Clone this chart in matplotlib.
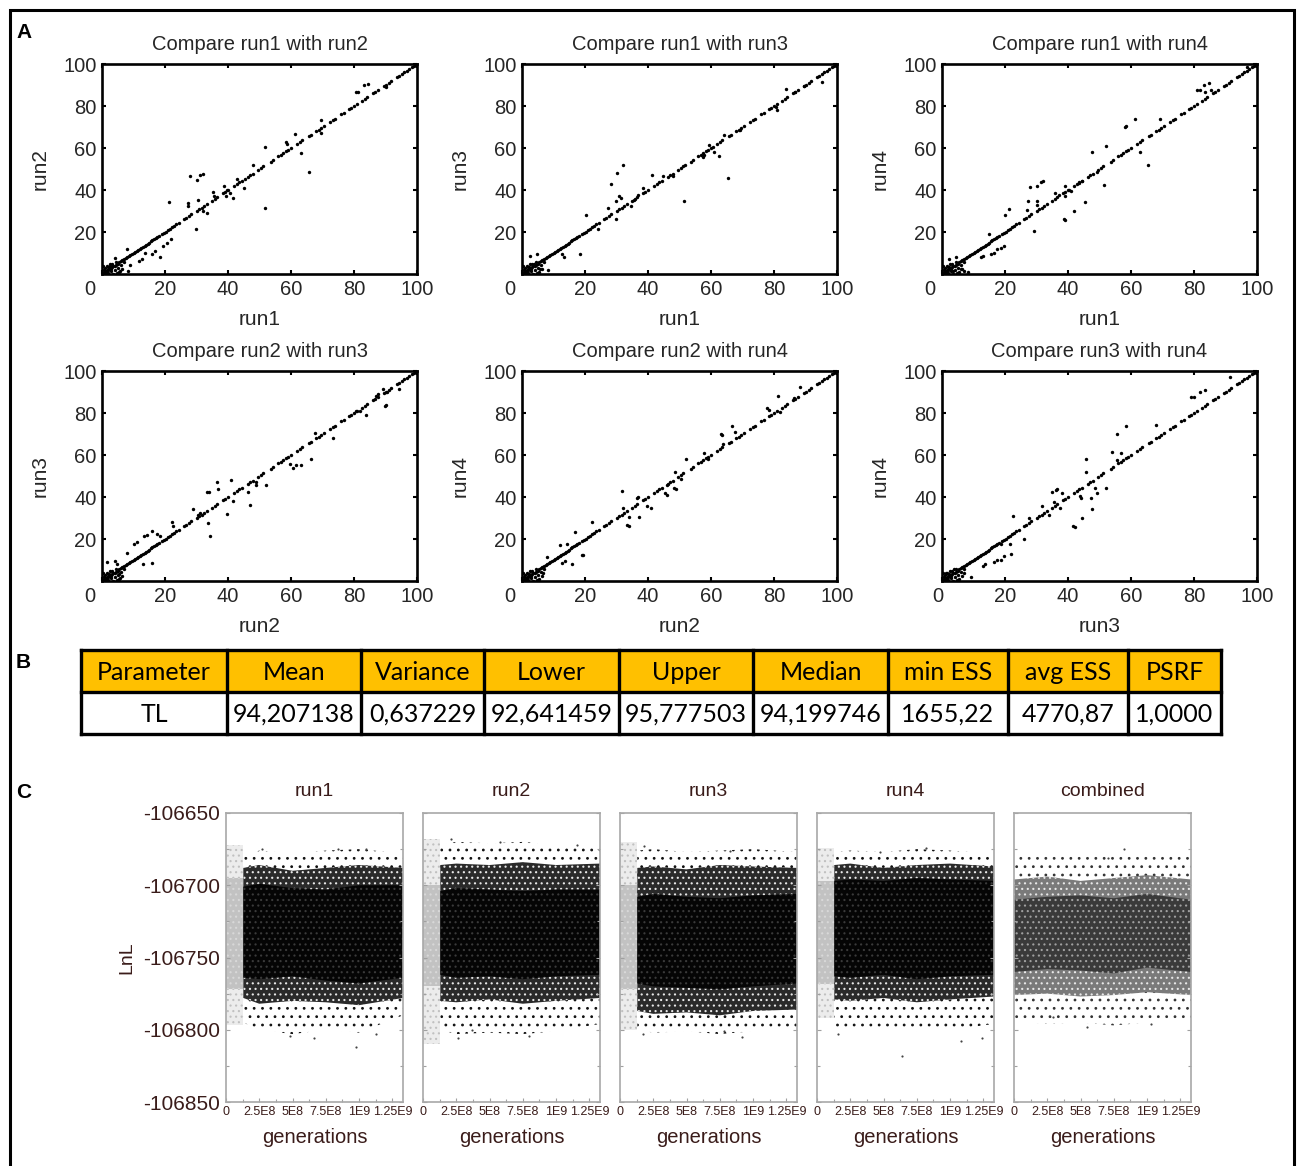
import numpy as np
import matplotlib
matplotlib.use("Agg")
import matplotlib.pyplot as plt
import matplotlib.transforms as mtrans
from matplotlib.ticker import MultipleLocator

plt.rcParams['font.family'] = ['Liberation Sans', 'DejaVu Sans']
plt.rcParams['axes.unicode_minus'] = False
plt.rcParams['hatch.linewidth'] = 0.8

W, H = 1300, 1166

# ---- panel A data (split frequencies, %) ----
diag = [0, 0.3, 0.6, 1, 1.3, 1.6, 2, 2.4, 2.8, 3.2, 3.6, 4, 4.5, 5, 5.5, 6, 6.5, 7,
        7.5, 8, 8.5, 9, 9.5, 10, 10.5, 11, 11.5, 12, 12.5, 13, 13.5, 14, 14.5, 15,
        15.5, 16, 16.5, 17, 17.5, 18, 19, 19.6, 20.2, 21, 21.6, 22.2, 23, 23.6, 24.4,
        26, 26.8, 27.6, 28.4, 30, 30.8, 31.6, 32.4, 33.2, 35, 35.8, 36.6, 38.4, 39.2,
        40, 42, 42.8, 43.6, 44.4, 46.2, 47, 47.8, 49.6, 50.4, 51.2, 53.5, 54.3, 56,
        56.8, 57.6, 58.4, 59.2, 60, 62, 62.8, 63.6, 65.6, 66.4, 68, 68.8, 69.6, 70.4,
        72.4, 73.2, 74, 76, 76.8, 78.4, 79.2, 80, 80.8, 82.6, 83.4, 84.2, 86, 86.8,
        87.6, 89.4, 90.2, 91, 91.8, 93.6, 94.4, 95.2, 96, 96.8, 97.6, 98.4, 99.2,
        99.6, 100]
# small cluster of rare splits near the origin
origin_x = [0.5, 1, 2, 3, 1.5, 4, 2.5, 5, 6, 3.5, 0.8, 1.8, 4.5, 5.5, 7, 2.2,
            1.2, 3.2, 0.4, 2.8, 4.8, 6.4]
origin_y = [2, 3, 0.5, 1.5, 4, 2, 5, 3, 4.2, 0.2, 1.2, 2.6, 5.8, 1, 5.5, 3.4,
            0.8, 4.6, 3.8, 2.2, 0.6, 2.4]

r1r2_x = [28.0, 30.1, 31.1, 32.2, 21.4, 27.4, 27.4, 30.6, 29.9, 51.7, 51.7, 65.7, 63.3,
          61.2, 69.4, 69.4, 58.3, 58.8, 80.7, 81.2, 83.3, 84.4, 90.2, 18.5, 15.8, 16.9,
          19.5, 20.6, 21.8, 13.7, 7.9, 4.2, 8.8, 5.8, 2.6, 8.4, 11.6, 12.7, 39.3, 40.6,
          35.3, 35.6, 45.0, 45.4, 48.0, 42.7, 41.5, 33.2, 32.2, 38.7, 39.6]
r1r2_y = [46.5, 44.9, 47.2, 47.7, 34.2, 33.9, 32.3, 35.4, 21.6, 60.6, 31.5, 48.8, 57.8,
          66.6, 73.2, 67.2, 63.0, 61.9, 86.9, 86.6, 89.8, 90.6, 89.0, 7.9, 9.4, 11.0,
          13.4, 14.6, 16.5, 10.2, 11.8, 7.4, 4.3, 1.6, 3.9, 1.6, 6.3, 7.1, 37.0, 38.6,
          38.9, 37.3, 41.0, 45.2, 52.0, 45.2, 36.2, 29.1, 29.9, 41.7, 40.2]

r1r3_x = [30.2, 32.1, 28.1, 30.7, 31.3, 29.8, 27.4, 29.7, 20.2, 18.4, 51.3, 65.3, 62.6,
          61.1, 57.4, 57.9, 59.5, 60.5, 64.2, 69.2, 83.7, 86.8, 95.1, 80.5, 81.0, 89.5,
          41.4, 44.7, 47.9, 38.4, 34.7, 35.5, 36.8, 51.6, 24.2, 2.6, 4.7, 5.8, 3.7, 12.6,
          13.2, 8.4]
r1r3_y = [48.3, 51.7, 42.8, 37.3, 36.2, 34.6, 31.5, 26.0, 27.9, 9.4, 35.0, 45.7, 56.2,
          58.3, 55.6, 56.7, 61.4, 60.6, 66.1, 68.5, 88.2, 86.6, 91.3, 79.5, 78.3, 89.3,
          47.2, 46.8, 46.5, 40.9, 32.3, 35.4, 37.8, 52.0, 21.3, 8.7, 9.4, 2.4, 4.7, 9.4,
          7.9, 2.0]

r1r4_x = [28.0, 30.0, 31.4, 32.2, 27.3, 30.3, 29.2, 20.0, 21.3, 30.1, 26.9, 15.0, 38.8,
          39.1, 41.9, 45.3, 39.0, 39.0, 47.7, 52.0, 51.5, 58.0, 58.3, 61.3, 62.8, 65.4,
          69.2, 80.8, 82.0, 83.1, 84.7, 83.6, 85.4, 96.8, 15.5, 16.6, 17.6, 18.7, 19.7,
          12.4, 12.9, 3.4, 6.0, 7.1, 8.1, 2.3, 4.4, 35.8, 37.2, 40.3, 41.1, 43.5, 44.6,
          49.3]
r1r4_y = [41.3, 41.7, 43.8, 44.1, 35.0, 34.6, 20.5, 27.9, 31.0, 32.8, 30.4, 18.9, 26.3,
          25.8, 29.9, 34.3, 41.7, 37.0, 58.3, 60.9, 42.5, 69.8, 70.4, 73.7, 58.3, 52.0,
          74.0, 87.4, 87.7, 89.8, 90.9, 86.9, 87.4, 98.4, 9.4, 10.2, 11.8, 12.6, 13.4,
          7.9, 8.7, 1.3, 2.4, 1.6, 0.8, 7.1, 7.9, 38.6, 37.8, 40.2, 39.4, 43.3, 44.4,
          48.5]

r2r3_x = [13.0, 10.0, 11.1, 13.2, 14.2, 15.8, 17.4, 18.5, 15.8, 4.2, 4.7, 1.6, 7.9, 5.3,
          5.8, 22.2, 22.5, 29.0, 30.6, 31.1, 33.4, 34.1, 36.6, 36.9, 40.8, 39.6, 34.3,
          33.8, 41.7, 46.9, 46.4, 48.8, 49.0, 52.2, 60.7, 63.3, 66.5, 59.6, 61.7, 73.3,
          67.5, 83.9, 89.7, 90.2, 87.0, 87.6, 80.7, 81.8, 94.4, 89.1, 90.5]
r2r3_y = [8.2, 17.6, 18.7, 21.6, 21.9, 23.6, 22.4, 21.6, 8.7, 9.4, 7.9, 9.0, 13.4, 3.1,
          1.6, 27.9, 26.0, 34.3, 31.5, 32.3, 42.2, 42.5, 47.2, 43.8, 47.9, 31.8, 21.4,
          27.6, 38.1, 36.2, 42.5, 45.7, 47.2, 45.7, 54.0, 55.4, 58.3, 55.9, 55.1, 68.0,
          70.6, 79.1, 83.2, 83.8, 88.2, 89.0, 80.8, 81.1, 91.6, 91.6, 89.8]

r2r4_x = [31.6, 32.1, 34.0, 33.4, 33.9, 37.2, 39.7, 41.1, 36.5, 36.8, 22.1, 16.8, 12.1,
          14.4, 15.8, 18.9, 19.5, 12.6, 13.7, 7.9, 6.8, 48.4, 48.9, 45.3, 46.0, 46.0,
          52.1, 48.7, 50.5, 57.9, 58.9, 63.2, 63.5, 66.6, 67.7, 63.7, 81.3, 77.9, 78.4,
          81.8, 86.3, 88.4]
r2r4_y = [42.8, 35.0, 30.7, 26.5, 26.0, 30.7, 35.9, 34.6, 39.4, 40.2, 28.3, 23.3, 17.3,
          17.6, 8.2, 12.3, 12.6, 8.7, 9.4, 11.3, 3.9, 44.4, 43.8, 41.7, 40.9, 45.7,
          58.3, 52.0, 48.5, 60.9, 58.3, 70.1, 69.6, 74.0, 70.9, 65.4, 88.2, 82.2, 81.6,
          80.3, 87.0, 92.2]

r3r4_x = [78.9, 79.9, 82.0, 83.6, 91.3, 58.3, 55.4, 67.8, 54.0, 56.7, 55.7, 45.8, 45.6,
          48.5, 52.0, 47.2, 49.3, 43.8, 44.0, 41.7, 42.1, 44.6, 47.7, 38.0, 36.1, 36.6,
          35.0, 35.6, 37.4, 34.0, 31.9, 27.7, 22.4, 21.6, 25.9, 18.7, 16.6, 17.6, 18.7,
          19.7, 21.9, 12.9, 13.6, 9.2, 7.1, 3.9, 1.3]
r3r4_y = [87.4, 87.8, 89.8, 90.9, 97.3, 74.0, 70.1, 74.3, 61.4, 61.1, 57.5, 58.3, 52.0,
          44.1, 44.1, 39.7, 41.7, 40.6, 39.4, 26.3, 25.8, 30.1, 34.3, 41.7, 43.3, 43.8,
          42.5, 37.8, 34.6, 31.5, 35.9, 30.2, 31.0, 17.6, 20.2, 17.6, 9.1, 9.8, 10.2,
          11.8, 12.9, 7.1, 7.9, 1.9, 3.9, 5.5, 3.9]

pairs = [("run1", "run2"), ("run1", "run3"), ("run1", "run4"),
         ("run2", "run3"), ("run2", "run4"), ("run3", "run4")]
pair_x = [r1r2_x, r1r3_x, r1r4_x, r2r3_x, r2r4_x, r3r4_x]
pair_y = [r1r2_y, r1r3_y, r1r4_y, r2r3_y, r2r4_y, r3r4_y]

# ---- panel B data ----
tbl_head = ["Parameter", "Mean", "Variance", "Lower", "Upper", "Median",
            "min ESS", "avg ESS", "PSRF"]
tbl_row = ["TL", "94,207138", "0,637229", "92,641459", "95,777503", "94,199746",
           "1655,22", "4770,87", "1,0000"]

# ---- panel C data (LnL traces, band edges read at sample generations) ----
trace_names = ["run1", "run2", "run3", "run4", "combined"]
burn_end = [1.3e8, 1.3e8, 1.3e8, 1.3e8, 0]
sample_gens = [2.5e8, 5e8, 7.5e8, 1.0e9, 1.33e9]
core_hi = [[-106701, -106699, -106702, -106703, -106700, -106700],
           [-106704, -106702, -106703, -106704, -106703, -106703],
           [-106708, -106706, -106708, -106709, -106707, -106706],
           [-106697, -106696, -106697, -106695, -106696, -106697],
           [-106710, -106708, -106707, -106709, -106706, -106710]]
core_lo = [[-106764, -106765, -106763, -106766, -106768, -106764],
           [-106762, -106764, -106763, -106765, -106763, -106762],
           [-106768, -106770, -106771, -106772, -106770, -106768],
           [-106763, -106764, -106762, -106765, -106763, -106762],
           [-106760, -106758, -106759, -106761, -106757, -106760]]
fringe_hi = [[-106688, -106686, -106690, -106688, -106686, -106688],
             [-106686, -106685, -106686, -106684, -106686, -106685],
             [-106688, -106687, -106689, -106686, -106687, -106688],
             [-106686, -106685, -106688, -106686, -106685, -106687],
             [-106696, -106694, -106697, -106695, -106693, -106696]]
fringe_lo = [[-106778, -106782, -106780, -106781, -106783, -106778],
             [-106780, -106781, -106779, -106782, -106780, -106778],
             [-106787, -106789, -106788, -106790, -106787, -106786],
             [-106779, -106780, -106778, -106781, -106779, -106777],
             [-106776, -106775, -106777, -106776, -106774, -106776]]
sparse_hi = [[-106680, -106676, -106678, -106676, -106675, -106678],
             [-106672, -106670, -106671, -106670, -106672, -106674],
             [-106676, -106675, -106677, -106676, -106675, -106677],
             [-106677, -106676, -106677, -106675, -106676, -106678],
             [-106680, -106678, -106680, -106679, -106677, -106680]]
sparse_lo = [[-106795, -106800, -106803, -106800, -106802, -106790],
             [-106800, -106803, -106802, -106803, -106801, -106796],
             [-106800, -106802, -106801, -106803, -106801, -106798],
             [-106798, -106800, -106799, -106801, -106800, -106796],
             [-106794, -106796, -106795, -106797, -106795, -106792]]
# burn-in (grey) part of runs 1-4
burn_core_hi = [-106695, -106700, -106700, -106697]
burn_core_lo = [-106772, -106770, -106772, -106768]
burn_sparse_hi = [-106672, -106668, -106670, -106674]
burn_sparse_lo = [-106797, -106810, -106800, -106792]
# isolated samples outside the bands
stray_gen = [[0.98e9, 0.66e9, 0.48e9, 1.13e9, 0.27e9, 1.05e9, 0.84e9],
             [0.21e9, 0.58e9, 1.16e9, 0.26e9, 0.80e9, 0.37e9],
             [0.18e9, 0.83e9, 0.92e9, 0.17e9, 0.78e9],
             [0.64e9, 0.82e9, 0.47e9, 1.08e9, 1.24e9, 0.16e9],
             [0.83e9, 0.55e9, 1.03e9, 0.71e9, 0.29e9]]
stray_lnl = [[-106812, -106806, -106804, -106803, -106675, -106675, -106675],
             [-106668, -106670, -106672, -106806, -106804, -106800],
             [-106673, -106676, -106805, -106803, -106801],
             [-106818, -106674, -106677, -106808, -106806, -106803],
             [-106675, -106798, -106796, -106681, -106791]]


def box(l, t, r, b):
    return [l / W, 1 - b / H, (r - l) / W, (b - t) / H]


fig = plt.figure(figsize=(W / 100, H / 100), dpi=100)

# overlay in pixel coordinates for frame, table and panel letters
ov = fig.add_axes([0, 0, 1, 1], zorder=-1)
ov.set_xlim(0, W)
ov.set_ylim(H, 0)
ov.axis('off')
ov.plot([10, 10, 1294, 1294], [H, 10, 10, H], color='k', lw=2.2, solid_joinstyle='miter')
for lab, (lx, ly) in zip("ABC", [(16, 32), (16, 663), (16, 792)]):
    ov.text(lx, ly, lab, fontsize=15, fontweight='bold', va='center', ha='left')

# ---- A: pairwise split-frequency comparisons ----
text_col = '#262626'
a_left = [102, 522, 942]
a_top = [64, 371]
for i, ((xn, yn), px, py) in enumerate(zip(pairs, pair_x, pair_y)):
    row, col = divmod(i, 3)
    ax = fig.add_axes(box(a_left[col], a_top[row], a_left[col] + 315, a_top[row] + 210))
    ax.scatter(diag, diag, s=6, c='k', linewidths=0)
    ax.scatter(origin_x, origin_y, s=6, c='k', linewidths=0)
    ax.scatter(px, py, s=6, c='k', linewidths=0)
    ax.set_xlim(0, 100)
    ax.set_ylim(0, 100)
    ax.set_xticks(range(0, 101, 20))
    ax.set_yticks(range(20, 101, 20))
    ax.tick_params(direction='in', top=True, right=True, length=3, width=1.5,
                   color='k', labelcolor=text_col, labelsize=14.5, pad=4)
    for sp in ax.spines.values():
        sp.set_linewidth(1.9)
    shift = -4 if i == 5 else -12
    lbl0 = ax.get_xticklabels()[0]
    lbl0.set_transform(lbl0.get_transform() +
                       mtrans.ScaledTranslation(shift / 100, 0, fig.dpi_scale_trans))
    ax.set_title(f"Compare {xn} with {yn}", fontsize=14.5, color=text_col, pad=10)
    ax.set_xlabel(xn, fontsize=15, color=text_col, labelpad=8)
    ax.set_ylabel(yn, fontsize=15, color=text_col, labelpad=10)

# ---- B: convergence table ----
col_edges = [81, 227, 361, 484, 619, 753, 888, 1008, 1128, 1221]
row_edges = [650, 692, 734]
for j in range(len(tbl_head)):
    x0, x1 = col_edges[j], col_edges[j + 1]
    ov.add_patch(plt.Rectangle((x0, row_edges[0]), x1 - x0, row_edges[1] - row_edges[0],
                               facecolor='#ffc000', edgecolor='none'))
    ov.text((x0 + x1) / 2, (row_edges[0] + row_edges[1]) / 2 + 1, tbl_head[j],
            family='Lato', fontsize=18, ha='center', va='center', color='k')
    ov.text((x0 + x1) / 2, (row_edges[1] + row_edges[2]) / 2 + 1, tbl_row[j],
            family='Lato', fontsize=18, ha='center', va='center', color='k')
for xe in col_edges:
    ov.plot([xe, xe], [row_edges[0], row_edges[-1]], color='k', lw=2.4)
for ye in row_edges:
    ov.plot([col_edges[0], col_edges[-1]], [ye, ye], color='k', lw=2.4)

# ---- C: LnL traces ----
c_col = '#3a1c1a'
c_left = [226, 423, 620, 817, 1014]
for k, name in enumerate(trace_names):
    ax = fig.add_axes(box(c_left[k], 813, c_left[k] + 177, 1102))
    gens = [burn_end[k]] + sample_gens
    if k < 4:
        bx = [0, burn_end[k]]
        ax.fill_between(bx, [burn_sparse_lo[k]] * 2, [burn_sparse_hi[k]] * 2,
                        facecolor='#ececec', edgecolor='#c0c0c0', hatch='...', linewidth=0)
        ax.fill_between(bx, [burn_core_lo[k]] * 2, [burn_core_hi[k]] * 2,
                        facecolor='#c2c2c2', edgecolor='#d8d8d8', hatch='...', linewidth=0)
        dot_col, mid_col, core_col, core_dot = '#111111', '#2a2a2a', '#050505', '#3a3a3a'
    else:
        dot_col, mid_col, core_col, core_dot = '#333333', '#7a7a7a', '#3a3a3a', '#a0a0a0'
    ax.fill_between(gens, sparse_lo[k], sparse_hi[k], facecolor='white',
                    edgecolor=dot_col, hatch='..', linewidth=0)
    ax.fill_between(gens, fringe_lo[k], fringe_hi[k], facecolor=mid_col,
                    edgecolor='#e8e8e8', hatch='...', linewidth=0)
    ax.fill_between(gens, core_lo[k], core_hi[k], facecolor=core_col,
                    edgecolor=core_dot, hatch='...', linewidth=0)
    ax.scatter(stray_gen[k], stray_lnl[k], s=2.5, c='#444444', linewidths=0)
    ax.set_xlim(0, 1.33e9)
    ax.set_ylim(-106850, -106650)
    ax.set_xticks([0, 2.5e8, 5e8, 7.5e8, 1e9, 1.25e9])
    ax.set_xticklabels(["0", "2.5E8", "5E8", "7.5E8", "1E9", "1.25E9"])
    ax.xaxis.set_minor_locator(MultipleLocator(1.25e8))
    ax.set_yticks([-106850, -106800, -106750, -106700, -106650])
    ax.yaxis.set_minor_locator(MultipleLocator(25))
    ax.tick_params(which='both', direction='in', right=True, top=False,
                   color='#a0a0a0', labelcolor=c_col)
    ax.tick_params(which='major', length=3, width=0.8)
    ax.tick_params(which='minor', length=2, width=0.8)
    ax.tick_params(axis='x', labelsize=9, pad=3)
    ax.tick_params(axis='y', labelsize=15, pad=4)
    if k > 0:
        ax.tick_params(axis='y', labelleft=False)
    else:
        ax.set_ylabel("LnL", fontsize=14, color=c_col, labelpad=6)
    for sp in ax.spines.values():
        sp.set_color('#a8a8a8')
        sp.set_linewidth(1.2)
    ax.set_title(name, fontsize=14, color=c_col, pad=12)
    ax.set_xlabel("generations", fontsize=14.5, color=c_col, labelpad=7)

fig.savefig("out.png", dpi=100)
